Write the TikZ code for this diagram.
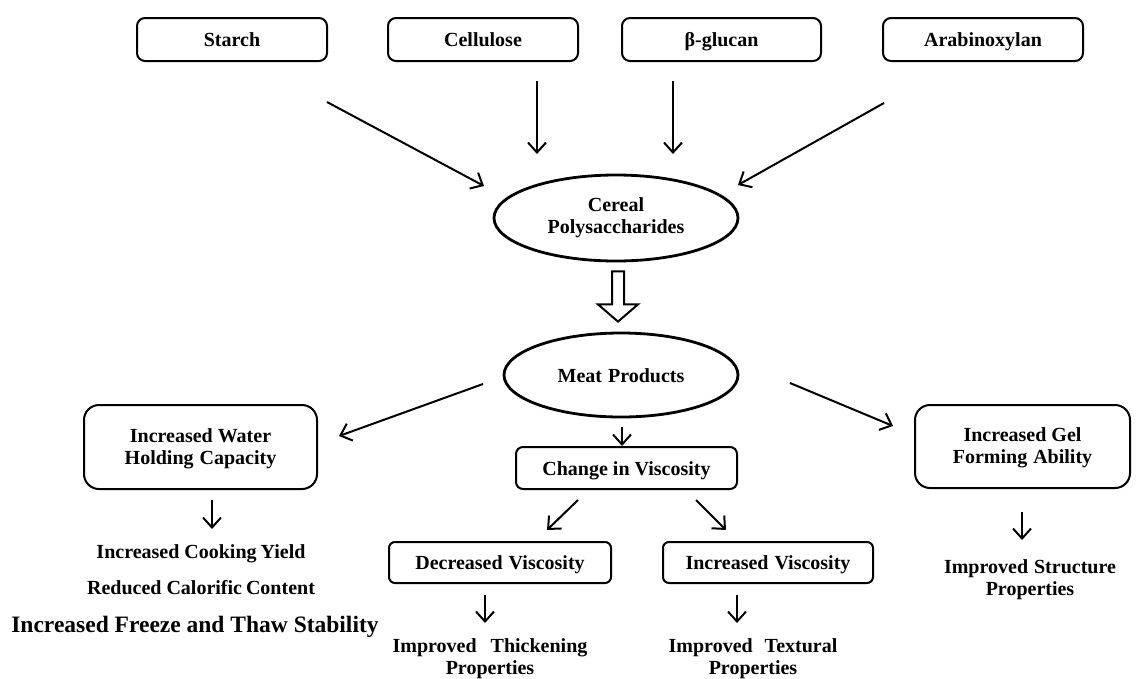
\documentclass[tikz,border=0pt]{standalone}
\usepackage{fontspec}
\setmainfont{Liberation Serif}
\usetikzlibrary{arrows.meta,calc,shapes.geometric}
\begin{document}
\begin{tikzpicture}[x=1pt,y=-1pt,
  txt/.style={font=\bfseries\fontsize{20}{22}\selectfont,align=center,inner sep=0pt},
  one/.style={text height=17pt,text depth=3pt},
  box/.style={txt,draw,line width=2pt,rounded corners=8pt},
  bigbox/.style={box,rounded corners=15pt},
  ell/.style={txt,draw,ellipse,line width=2.8pt},
  lbl/.style={txt},
  arr/.style={line width=2pt,-{Straight Barb[length=10pt,width=18pt,line width=2pt]}},
  hollow/.style={line width=2pt,fill=white,line join=miter}
]
\useasboundingbox (0,0) rectangle (1137,678);
\fill[white] (0,0) rectangle (1137,678);

% top row
\node[box,one,minimum width=190pt,minimum height=43pt] (starch) at (232,39.5) {Starch};
\node[box,one,minimum width=190pt,minimum height=43pt] (cell) at (483,39.5) {Cellulose};
\node[box,one,minimum width=199pt,minimum height=43pt] (bglu) at (721.5,39.5) {β-glucan};
\node[box,one,minimum width=200pt,minimum height=43pt] (arab) at (983,39.5) {Arabinoxylan};

% ellipses
\node[ell,minimum width=244pt,minimum height=86pt] (cp) at (616,218) {Cereal\\Polysaccharides};
\node[ell,one,minimum width=234pt,minimum height=84pt] (mp) at (621,375) {Meat\hspace{6pt}Products};

% middle row
\node[bigbox,minimum width=233pt,minimum height=84pt] (water) at (200.5,447) {\rule{0pt}{17pt}Increased Water\\Holding\hspace{6pt}Capacity};
\node[box,one,rounded corners=7pt,minimum width=221pt,minimum height=42pt] (change) at (626.5,468) {Change in Viscosity};
\node[bigbox,minimum width=215pt,minimum height=83pt] (gel) at (1022.5,446.5) {\rule{0pt}{17pt}Increased Gel\\Forming\hspace{6pt}Ability};

\node[box,one,rounded corners=6pt,minimum width=222pt,minimum height=41pt] (dec) at (500,562.5) {Decreased\hspace{6pt}Viscosity};
\node[box,one,rounded corners=6pt,minimum width=210pt,minimum height=41pt] (inc) at (768,562.5) {Increased\hspace{6pt}Viscosity};

% result texts
\node[lbl,one] (cook) at (201,551) {Increased Cooking\hspace{4pt}Yield};
\node[lbl,one] (cal) at (201,587) {Reduced Calorific\hspace{4pt}Content};
\node[lbl,one,font=\bfseries\fontsize{23.5}{25}\selectfont] (frz) at (195,625) {Increased Freeze and Thaw Stability};
\node[lbl] (thick) at (490,659) {Improved\hspace{14pt}Thickening\\Properties};
\node[lbl] (textu) at (753,659) {Improved\hspace{12pt}Textural\\Properties};
\node[lbl] (struct) at (1030,580) {Improved\hspace{6pt}Structure\\Properties};

% connector end points
\coordinate (s1) at (327,102);  \coordinate (s2) at (484,186);
\coordinate (c1) at (537,81);   \coordinate (c2) at (537,154);
\coordinate (b1) at (673,81);   \coordinate (b2) at (673,154);
\coordinate (a1) at (884,103);  \coordinate (a2) at (738,185);
\coordinate (mw1) at (483,384); \coordinate (mw2) at (339,436);
\coordinate (mc1) at (622,427);
\coordinate (mg1) at (790,383); \coordinate (mg2) at (893,426);
\coordinate (cd1) at (578,500); \coordinate (cd2) at (547,530);
\coordinate (ci1) at (696,500); \coordinate (ci2) at (726,530);
\coordinate (w1) at (212,500);  \coordinate (w2) at (212,529);
\coordinate (d1) at (485,595);  \coordinate (d2) at (485,623);
\coordinate (i1) at (737,595);  \coordinate (i2) at (737,623);
\coordinate (g1) at (1022,512); \coordinate (g2) at (1022,540);

\draw[arr] (s1) -- (s2);
\draw[arr] (c1) -- (c2);
\draw[arr] (b1) -- (b2);
\draw[arr] (a1) -- (a2);
\draw[arr] (mw1) -- (mw2);
\draw[arr] (mc1) -- (mc1 |- change.north);
\draw[arr] (mg1) -- (mg2);
\draw[arr] (cd1) -- (cd2);
\draw[arr] (ci1) -- (ci2);
\draw[arr] (w1) -- (w2);
\draw[arr] (d1) -- (d2);
\draw[arr] (i1) -- (i2);
\draw[arr] (g1) -- (g2);

% hollow block arrow from cp to mp
\path (cp.south) ++(2,0) coordinate (ha);
\draw[hollow] ($(ha)+(-6,9)$) -- ($(ha)+(6,9)$) -- ($(ha)+(6,42)$) -- ($(ha)+(20,42)$)
  -- ($(mp.north)+(-3,-10)$) -- ($(ha)+(-20,42)$) -- ($(ha)+(-6,42)$) -- cycle;
\end{tikzpicture}
\end{document}
